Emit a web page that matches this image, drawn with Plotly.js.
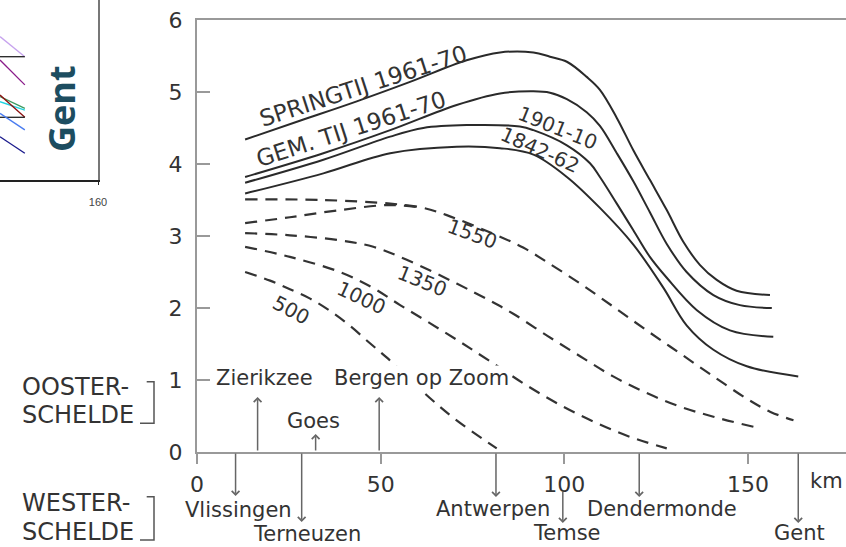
<!DOCTYPE html>
<html><head><meta charset="utf-8">
<script src="https://cdn.plot.ly/plotly-3.0.1.min.js"></script>
<style>html,body{margin:0;padding:0;background:#fff}#chart{width:846px;height:547px}</style>
</head><body><div id="chart"></div>
<script>
// ---------- DATA : distance along the Schelde (km) vs high-water level (m) ----------
const springKm = [13.1, 28.0, 43.5, 58.0, 73.4, 82.5, 91.6, 96.1, 100.7, 106.1, 109.7, 114.3, 118.8, 123.3, 127.9, 132.4, 136.9, 141.5, 146.9, 156.0];
const springM  = [4.34, 4.60, 4.87, 5.14, 5.44, 5.55, 5.55, 5.49, 5.42, 5.21, 5.03, 4.64, 4.19, 3.78, 3.36, 2.92, 2.60, 2.39, 2.24, 2.18];

const gemKm = [13.1, 34.4, 52.6, 70.7, 82.5, 91.6, 96.1, 100.7, 106.1, 109.7, 114.3, 118.8, 123.3, 127.9, 133.3, 140.6, 147.8, 156.5];
const gemM  = [3.82, 4.15, 4.47, 4.82, 4.98, 5.01, 4.99, 4.90, 4.72, 4.53, 4.15, 3.76, 3.33, 2.89, 2.50, 2.18, 2.04, 2.00];

const t1901Km = [13.1, 34.4, 52.6, 61.6, 73.4, 87.9, 91.6, 100.7, 107.0, 109.7, 114.3, 118.8, 123.3, 127.9, 136.1, 145.1, 156.9];
const t1901M  = [3.74, 4.06, 4.38, 4.50, 4.54, 4.52, 4.47, 4.26, 4.01, 3.82, 3.45, 3.08, 2.71, 2.42, 1.97, 1.69, 1.60];

const t1842Km = [13.1, 34.4, 52.6, 70.7, 82.5, 91.6, 100.7, 109.7, 118.8, 127.0, 133.3, 140.6, 149.7, 163.7];
const t1842M  = [3.59, 3.87, 4.15, 4.24, 4.22, 4.13, 3.82, 3.39, 2.88, 2.28, 1.76, 1.42, 1.19, 1.05];

const y1550aKm = [13.1, 34.4, 52.6, 61.6, 68.0, 82.5, 88.8, 95.2, 104.3, 113.3, 122.4, 131.5, 140.6, 149.7, 156.0, 162.4];
const y1550aM  = [3.51, 3.50, 3.45, 3.39, 3.29, 2.99, 2.84, 2.64, 2.34, 2.02, 1.69, 1.37, 1.05, 0.74, 0.56, 0.44];

const y1550bKm = [13.1, 25.3, 38.9, 52.6, 61.6];
const y1550bM  = [3.18, 3.26, 3.36, 3.43, 3.39];

const y1350Km = [13.1, 25.3, 38.9, 48.0, 57.1, 70.7, 79.8, 86.1, 95.2, 104.3, 113.3, 122.4, 131.5, 140.6, 151.5];
const y1350M  = [3.04, 3.01, 2.94, 2.85, 2.67, 2.34, 2.10, 1.92, 1.62, 1.33, 1.05, 0.82, 0.63, 0.49, 0.35];

const y1000Km = [13.1, 25.3, 38.9, 47.9, 55.3, 63.4, 71.6, 79.8, 89.9, 99.7, 108.9, 117.9, 127.9];
const y1000M  = [2.85, 2.71, 2.50, 2.28, 2.04, 1.79, 1.53, 1.26, 0.92, 0.63, 0.40, 0.21, 0.05];

const y500Km = [13.1, 19.9, 25.3, 30.8, 36.2, 41.7, 47.1, 51.7, 63.4, 70.7, 81.6];
const y500M  = [2.50, 2.38, 2.26, 2.13, 1.96, 1.75, 1.51, 1.31, 0.75, 0.44, 0.05];

// Places along the estuaries (km)
const oosterNames = ['Zierikzee', 'Goes', 'Bergen op Zoom'];
const oosterKm    = [16.5, 32.3, 49.6];
const westerNames = ['Vlissingen', 'Terneuzen', 'Antwerpen', 'Temse', 'Dendermonde', 'Gent'];
const westerKm    = [10.5, 28.5, 81.4, 99.6, 120.4, 163.7];

const xTicks = [0, 50, 100, 150];
const yTicks = [0, 1, 2, 3, 4, 5, 6];

// fragment of neighbouring chart (left edge)
const fragX = [130, 137.6];
const fragSeries = [
  {c:'#c7a3ee', y:[4.78, 4.11]},
  {c:'#222222', y:[4.11, 4.11]},
  {c:'#8a1c8a', y:[4.00, 3.17]},
  {c:'#3c9a5f', y:[2.78, 2.39]},
  {c:'#1fd3e0', y:[2.61, 2.33]},
  {c:'#8b1010', y:[2.83, 2.09]},
  {c:'#222222', y:[2.09, 2.09]},
  {c:'#4a7cf0', y:[2.22, 1.67]},
  {c:'#1a1a8c', y:[1.44, 0.89]}
];

// ---------- LAYOUT HELPERS ----------
const W = 846, H = 547, B = 95, PH = H - B;
const pxX = px => px / W;
const pxY = py => (PH - py) / PH;
const FONT = 'DejaVu Sans';
const INK = '#333333';

const solid = {color:'#2a2a2a', width:2, shape:'spline', smoothing:1};
const dashed = {color:'#333333', width:2.2, dash:'12px,8px', shape:'spline', smoothing:1};

const traces = [
  {x:springKm, y:springM, name:'Springtij 1961-70', line:solid},
  {x:gemKm, y:gemM, name:'Gem. tij 1961-70', line:solid},
  {x:t1901Km, y:t1901M, name:'1901-10', line:solid},
  {x:t1842Km, y:t1842M, name:'1842-62', line:solid},
  {x:y1550aKm, y:y1550aM, name:'1550', line:dashed},
  {x:y1550bKm, y:y1550bM, name:'1550 (b)', line:dashed},
  {x:y1350Km, y:y1350M, name:'1350', line:dashed},
  {x:y1000Km, y:y1000M, name:'1000', line:dashed},
  {x:y500Km, y:y500M, name:'500', line:dashed}
].map(t => Object.assign({type:'scatter', mode:'lines', xaxis:'x', yaxis:'y', hoverinfo:'skip'}, t));

fragSeries.forEach(s => traces.push({type:'scatter', mode:'lines', x:fragX, y:s.y, xaxis:'x2', yaxis:'y2',
  line:{color:s.c, width:1.3}, hoverinfo:'skip'}));

const ann = [];
// curve labels (data coords)
[
  {t:'SPRINGTIJ 1961-70', x:45.2, y:5.08, a:-18, s:23},
  {t:'GEM. TIJ 1961-70', x:41.9, y:4.49, a:-18, s:23},
  {t:'1901-10', x:98.3, y:4.50, a:22, s:20},
  {t:'1842-62', x:93.4, y:4.19, a:24, s:20},
  {t:'1550', x:75.1, y:3.03, a:20, s:20},
  {t:'1350', x:61.4, y:2.38, a:22, s:20},
  {t:'1000', x:44.9, y:2.14, a:25, s:20},
  {t:'500', x:25.6, y:1.97, a:28, s:20}
].forEach(o => ann.push({xref:'x', yref:'y', x:o.x, y:o.y, text:o.t, textangle:o.a, showarrow:false,
  xanchor:'center', yanchor:'middle', font:{family:FONT, size:o.s, color:INK}}));

// arrows (upward: Oosterschelde, downward: Westerschelde)
const upHead = [397, 434, 397];
oosterKm.forEach((k, i) => ann.push({xref:'x', yref:'paper', x:k, y:pxY(upHead[i]), ax:0, ay:452 - upHead[i],
  axref:'pixel', ayref:'pixel', text:'', showarrow:true, arrowhead:4, arrowsize:1, arrowwidth:1.5, arrowcolor:'#666', standoff:0}));
const downHead = [496, 522, 497, 523, 497, 523];
const downTail = [452, 452, 452, 490, 452, 452];
westerKm.forEach((k, i) => ann.push({xref:'x', yref:'paper', x:k, y:pxY(downHead[i]), ax:0, ay:downTail[i] - downHead[i],
  axref:'pixel', ayref:'pixel', text:'', showarrow:true, arrowhead:4, arrowsize:1, arrowwidth:1.5, arrowcolor:'#666', standoff:0}));

// place labels (layout positions in pixels)
const oosterLbl = [[264, 378], [313, 421], [421.7, 378]];
oosterNames.forEach((n, i) => ann.push({xref:'paper', yref:'paper', x:pxX(oosterLbl[i][0]), y:pxY(oosterLbl[i][1]), text:n,
  showarrow:false, xanchor:'center', yanchor:'middle', bgcolor:'#ffffff', borderpad:0, font:{family:FONT, size:21, color:INK}}));
const westerLbl = [[238, 510], [306.7, 534], [493, 509], [566.7, 532.5], [661.7, 509], [799, 532.5]];
westerNames.forEach((n, i) => ann.push({xref:'paper', yref:'paper', x:pxX(westerLbl[i][0]), y:pxY(westerLbl[i][1]), text:n,
  showarrow:false, xanchor:'center', yanchor:'middle', font:{family:FONT, size:21, color:INK}}));

[['OOSTER-', 387.3], ['SCHELDE', 415], ['WESTER-', 502.5], ['SCHELDE', 532.3]].forEach(o => ann.push({
  xref:'paper', yref:'paper', x:pxX(20), y:pxY(o[1]), text:o[0], showarrow:false, xanchor:'left', yanchor:'middle',
  font:{family:FONT, size:24, color:INK}}));

ann.push({xref:'paper', yref:'paper', x:pxX(826), y:pxY(481), text:'km', showarrow:false, xanchor:'center', yanchor:'middle',
  font:{family:FONT, size:21, color:INK}});
ann.push({xref:'paper', yref:'paper', x:pxX(61.7), y:pxY(108.3), text:'<b>Gent</b>', textangle:-90, showarrow:false,
  xanchor:'center', yanchor:'middle', font:{family:'Open Sans', size:36, color:'#1d4d60'}});

const bracket = (top, bot) => ({type:'path', xref:'paper', yref:'paper',
  path:`M${pxX(146.7)},${pxY(top)} L${pxX(154)},${pxY(top)} L${pxX(154)},${pxY(bot)} L${pxX(140)},${pxY(bot)}`,
  line:{color:'#555', width:1.5}});

const layout = {
  width:W, height:H, margin:{l:0, r:0, t:0, b:B}, showlegend:false,
  paper_bgcolor:'#fff', plot_bgcolor:'rgba(0,0,0,0)',
  font:{family:FONT, color:INK},
  xaxis:{domain:[197/W, 1], range:[0, 176.7], anchor:'y', tickvals:xTicks, ticks:'outside', ticklen:10, tickwidth:2,
    tickcolor:'#999', showline:true, linecolor:'#999', linewidth:2, mirror:true, showgrid:false, zeroline:false,
    tickfont:{family:FONT, size:22, color:INK}, ticklabelstandoff:2},
  yaxis:{domain:[0, 1 - 20/PH], range:[0, 6], anchor:'x', tickvals:yTicks, ticks:'inside', ticklen:13, tickwidth:2,
    tickcolor:'#999', showline:true, linecolor:'#999', linewidth:2, showgrid:false, zeroline:false,
    tickfont:{family:FONT, size:22, color:INK}, ticklabelstandoff:8},
  xaxis2:{domain:[0, 98/W], range:[130, 160], anchor:'y2', tickvals:[160], ticks:'outside', ticklen:3, tickcolor:'#222',
    showline:true, linecolor:'#222', linewidth:1.5, showgrid:false, zeroline:false,
    tickfont:{family:'Liberation Sans', size:11, color:'#444'}, ticklabelstandoff:8},
  yaxis2:{domain:[(PH - 180)/PH, 1], range:[0, 6], anchor:'x2', side:'right', showline:true, linecolor:'#777', linewidth:1.5,
    showticklabels:false, ticks:'', showgrid:false, zeroline:false},
  annotations:ann,
  shapes:[bracket(381.7, 423.3), bracket(496.7, 540)]
};

Plotly.newPlot('chart', traces, layout, {staticPlot:true, displayModeBar:false});
</script></body></html>
